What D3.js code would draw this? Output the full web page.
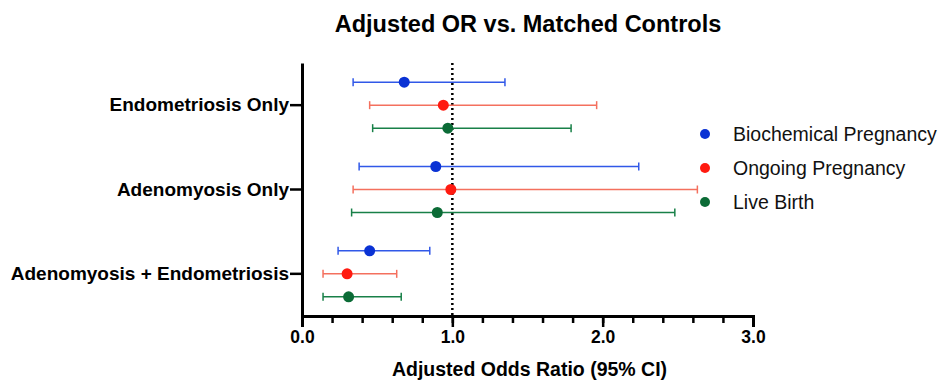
<!DOCTYPE html>
<html>
<head>
<meta charset="utf-8">
<script src="https://cdn.jsdelivr.net/npm/d3@7"></script>
<style>
  body { margin: 0; background: #fff; }
  svg { font-family: "Liberation Sans", Arial, Helvetica, sans-serif; }
</style>
</head>
<body>
<div id="chart"></div>
<script>
// groups top to bottom
const groups = ['Endometriosis Only', 'Adenomyosis Only', 'Adenomyosis + Endometriosis'];
const outcomes = ['Biochemical Pregnancy', 'Ongoing Pregnancy', 'Live Birth'];
// odds ratio, lower, upper per group for each outcome
const biochemical = [[0.68, 0.34, 1.35], [0.89, 0.38, 2.24], [0.45, 0.24, 0.85]];
const ongoing = [[0.94, 0.45, 1.96], [0.99, 0.34, 2.63], [0.30, 0.14, 0.63]];
const liveBirth = [[0.97, 0.47, 1.79], [0.90, 0.33, 2.48], [0.31, 0.14, 0.66]];
const xTicks = [0, 1, 2, 3];

const seriesValues = [biochemical, ongoing, liveBirth];
const pointColors = ['#0a32d4', '#ff1a10', '#0b6b36'];
const lineColors = ['#3158e8', '#f4705e', '#188048'];

const svgWidth = 944, svgHeight = 380;
const margin = { top: 63, left: 302, right: 191, bottom: 64 };
const width = svgWidth - margin.left - margin.right;
const height = svgHeight - margin.top - margin.bottom;

const svg = d3.select('#chart').append('svg')
  .attr('width', svgWidth)
  .attr('height', svgHeight);

svg.append('text')
  .attr('x', 528).attr('y', 31.5)
  .attr('text-anchor', 'middle')
  .attr('font-size', 23.5).attr('font-weight', 'bold')
  .text('Adjusted OR vs. Matched Controls');

const g = svg.append('g').attr('transform', `translate(${margin.left},${margin.top})`);

const x = d3.scaleLinear().domain([0, 3]).range([0, width]);
const y = d3.scaleBand().domain(groups).range([0, height]);
const offset = d3.scalePoint().domain(outcomes).range([-23, 23]);

// minor ticks
g.append('g')
  .attr('transform', `translate(0,${height})`)
  .call(d3.axisBottom(x).tickValues(d3.range(0, 3.01, 0.2)).tickSize(7).tickFormat(''))
  .call(a => a.select('.domain').remove())
  .call(a => a.selectAll('line').attr('stroke', '#000').attr('stroke-width', 2.5));

const xAxis = g.append('g')
  .attr('transform', `translate(0,${height})`)
  .call(d3.axisBottom(x).tickValues(xTicks).tickSize(11).tickPadding(4).tickFormat(d3.format('.1f')));
xAxis.select('.domain').attr('stroke-width', 3);
xAxis.selectAll('line').attr('stroke-width', 2.5);
xAxis.selectAll('text').attr('font-size', 17.5).attr('font-weight', 'bold').attr('fill', '#000');

const yAxis = g.append('g')
  .call(d3.axisLeft(y).tickSize(12).tickSizeOuter(0).tickPadding(1));
yAxis.select('.domain').attr('stroke-width', 3);
yAxis.selectAll('line').attr('stroke-width', 2.5);
yAxis.selectAll('text').attr('font-size', 19).attr('font-weight', 'bold').attr('fill', '#000');

svg.append('text')
  .attr('x', margin.left + width / 2 + 2).attr('y', 375.5)
  .attr('text-anchor', 'middle')
  .attr('font-size', 19.5).attr('font-weight', 'bold')
  .text('Adjusted Odds Ratio (95% CI)');

// reference line at OR = 1
g.append('line')
  .attr('x1', x(1)).attr('x2', x(1))
  .attr('y1', 0).attr('y2', height)
  .attr('stroke', '#000').attr('stroke-width', 2.5)
  .attr('stroke-dasharray', '2,3');

outcomes.forEach((name, s) => {
  const rows = seriesValues[s].map((v, i) => ({ group: groups[i], or: v[0], lo: v[1], hi: v[2] }));
  const sg = g.append('g');
  const cy = d => y(d.group) + y.bandwidth() / 2 + offset(name);
  sg.selectAll('.ci').data(rows).enter().append('line')
    .attr('x1', d => x(d.lo)).attr('x2', d => x(d.hi))
    .attr('y1', cy).attr('y2', cy)
    .attr('stroke', lineColors[s]).attr('stroke-width', 1.5);
  ['lo', 'hi'].forEach(k => {
    sg.selectAll('.cap-' + k).data(rows).enter().append('line')
      .attr('x1', d => x(d[k])).attr('x2', d => x(d[k]))
      .attr('y1', d => cy(d) - 4).attr('y2', d => cy(d) + 4)
      .attr('stroke', lineColors[s]).attr('stroke-width', 1.5);
  });
  sg.selectAll('circle').data(rows).enter().append('circle')
    .attr('cx', d => x(d.or)).attr('cy', cy).attr('r', 5.5)
    .attr('fill', pointColors[s]);
});

// legend
const legend = svg.append('g').attr('transform', 'translate(705,134)');
outcomes.forEach((name, i) => {
  const row = legend.append('g').attr('transform', `translate(0,${i * 34})`);
  row.append('circle').attr('r', 5).attr('fill', pointColors[i]);
  row.append('text').attr('x', 28).attr('dy', '0.36em')
    .attr('font-size', 19.5).attr('fill', '#111').text(name);
});
</script>
</body>
</html>
